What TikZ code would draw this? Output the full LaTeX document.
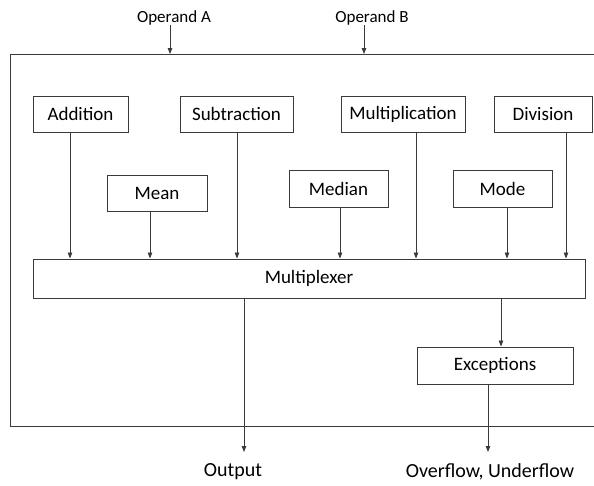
\documentclass[tikz,border=0pt]{standalone}
\usepackage{fontspec}
\setmainfont{Carlito}
\usetikzlibrary{arrows.meta}
\definecolor{linec}{HTML}{3A3A3A}
\tikzset{
  box/.style={draw=linec, line width=0.9pt, fill=white, inner sep=0pt, font=\fontsize{19}{21}\selectfont, text=black},
  arr/.style={draw=linec, line width=0.8pt, -{Triangle[length=6pt,width=4.5pt]}},
  lbl/.style={inner sep=0pt, text=black},
}
\begin{document}
\begin{tikzpicture}[x=1pt,y=-1pt]
\useasboundingbox (0,0) rectangle (594,485);
% outer frame (right side lies beyond the picture)
\draw[linec, line width=0.9pt] (600,54) -- (10,54) -- (10,426) -- (600,426);
% operand labels
\node[lbl, font=\fontsize{17}{19}\selectfont] (opa) at (174,18) {Operand A};
\node[lbl, font=\fontsize{17}{19}\selectfont] (opb) at (372,18) {Operand B};
\coordinate (fa) at (170,54);
\coordinate (fb) at (364,54);
\draw[arr] (opa.south -| fa) -- (fa);
\draw[arr] (opb.south -| fb) -- (fb);
% boxes
\node[box, minimum width=95pt, minimum height=36pt] (add) at (80.5,114) {Addition};
\node[box, minimum width=113pt, minimum height=36pt] (sub) at (236.5,114) {Subtraction};
\node[box, minimum width=124pt, minimum height=36pt] (mul) at (403,114) {Multiplication};
\node[box, minimum width=98pt, minimum height=36pt] (div) at (543,114) {Division};
\node[box, minimum width=100pt, minimum height=36pt] (mean) at (157,193) {Mean};
\node[box, minimum width=99pt, minimum height=37pt] (median) at (338.5,188.5) {Median};
\node[box, minimum width=99pt, minimum height=37pt] (mode) at (502.5,188.5) {Mode};
\node[box, minimum width=552pt, minimum height=39pt] (mux) at (309,278.5) {Multiplexer};
\node[box, minimum width=156pt, minimum height=37pt] (exc) at (495,365.5) {Exceptions};
% output labels
\node[lbl, font=\fontsize{20}{22}\selectfont] (out) at (233,472) {Output};
\node[lbl, font=\fontsize{20}{22}\selectfont] (ovf) at (490,472) {Overflow, Underflow};
% x positions of connectors
\coordinate (xa) at (70,0);
\coordinate (xm) at (150,0);
\coordinate (xs) at (237,0);
\coordinate (xme) at (340,0);
\coordinate (xmu) at (416,0);
\coordinate (xmo) at (507,0);
\coordinate (xd) at (566,0);
\coordinate (xo) at (244,0);
\coordinate (xe) at (501,0);
\coordinate (xf) at (488,0);
\coordinate (endo) at (244,452);
\coordinate (endf) at (488,452);
% connectors into multiplexer
\draw[arr] (add.south -| xa) -- (mux.north -| xa);
\draw[arr] (mean.south -| xm) -- (mux.north -| xm);
\draw[arr] (sub.south -| xs) -- (mux.north -| xs);
\draw[arr] (median.south -| xme) -- (mux.north -| xme);
\draw[arr] (mul.south -| xmu) -- (mux.north -| xmu);
\draw[arr] (mode.south -| xmo) -- (mux.north -| xmo);
\draw[arr] (div.south -| xd) -- (mux.north -| xd);
% outputs
\draw[arr] (mux.south -| xo) -- (endo);
\draw[arr] (mux.south -| xe) -- (exc.north -| xe);
\draw[arr] (exc.south -| xf) -- (endf);
\end{tikzpicture}
\end{document}
